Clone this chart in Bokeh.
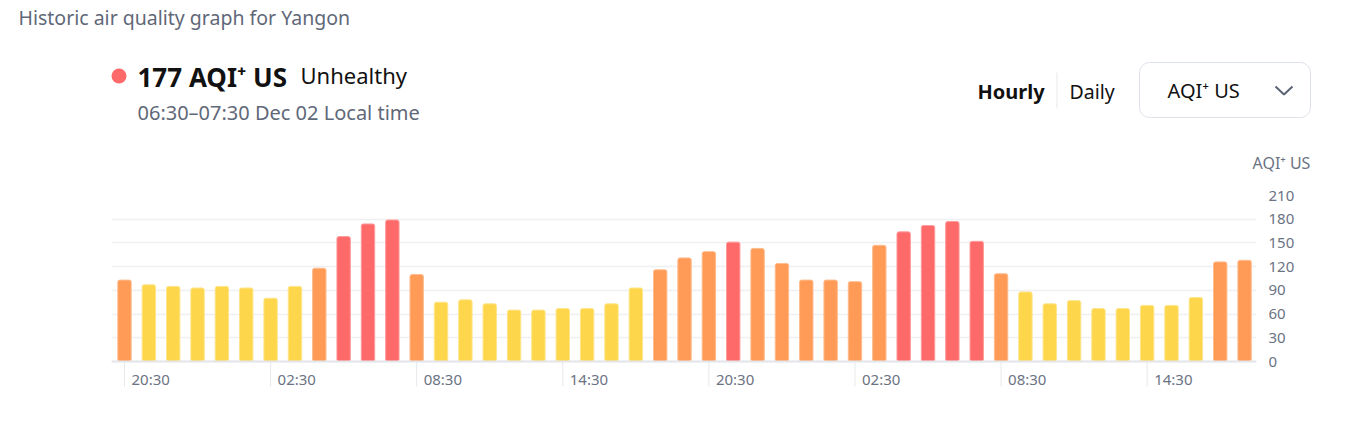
from bokeh.plotting import figure
from bokeh.layouts import column
from bokeh.models import Range1d, FixedTicker, ColumnDataSource, Span
from bokeh.core.properties import value
from bokeh.embed import file_html
from bokeh.resources import INLINE

# ---------------- data ----------------
hours = ["20:30", "21:30", "22:30", "23:30", "00:30", "01:30", "02:30", "03:30",
         "04:30", "05:30", "06:30", "07:30", "08:30", "09:30", "10:30", "11:30",
         "12:30", "13:30", "14:30", "15:30", "16:30", "17:30", "18:30", "19:30",
         "20:30", "21:30", "22:30", "23:30", "00:30", "01:30", "02:30", "03:30",
         "04:30", "05:30", "06:30", "07:30", "08:30", "09:30", "10:30", "11:30",
         "12:30", "13:30", "14:30", "15:30", "16:30", "17:30", "18:30"]
aqi = [103, 97, 95, 93, 95, 93, 80, 95, 118, 158, 174, 179, 110, 75, 78, 73,
       65, 65, 67, 67, 73, 93, 116, 131, 139, 151, 143, 124, 103, 103, 101, 147,
       164, 172, 177, 152, 111, 88, 73, 77, 67, 67, 71, 71, 81, 126, 128]
tick_idx = [0, 6, 12, 18, 24, 30, 36, 42]
tick_labels = ["20:30", "02:30", "08:30", "14:30", "20:30", "02:30", "08:30", "14:30"]
y_ticks = [0, 30, 60, 90, 120, 150, 180, 210]

YELLOW, ORANGE, RED = "#FDD64B", "#FF9B57", "#FE6A69"
YELLOW_L, ORANGE_L, RED_L = "#FEE58A", "#FFBC8E", "#FF9A99"


def level_color(v):
    if v <= 100:
        return YELLOW
    if v <= 150:
        return ORANGE
    return RED


def level_edge(v):
    if v <= 100:
        return YELLOW_L
    if v <= 150:
        return ORANGE_L
    return RED_L


FONT = value("Noto Sans")
GRAY = "#6b7383"
DARK = "#111111"
W = 1345
HEAD_H = 182
CHART_H = 425 - HEAD_H

# ---------------- header (pixel-like coordinates, y downwards) ----------------
h = figure(width=W, height=HEAD_H, x_range=Range1d(0, W), y_range=Range1d(HEAD_H, 0),
           output_backend="svg", toolbar_location=None,
           x_axis_location=None, y_axis_location=None,
           min_border=0, min_border_left=0, min_border_right=0,
           min_border_top=0, min_border_bottom=0)
h.outline_line_color = None
h.xgrid.visible = False
h.ygrid.grid_line_color = None


def txt(x, y, t, size, color, style="normal"):
    h.text(x=[x], y=[y], text=[t], text_align="left", text_baseline="middle",
           text_font=FONT, text_font_size=size, text_color=color,
           text_font_style=style)


txt(18, 17, "Historic air quality graph for Yangon", "19.5px", "#5f6878")
h.scatter(x=[118.5], y=[75.5], size=15, color=RED, line_color=None)
txt(137, 76, "177 AQI\u207a US", "26px", DARK, "bold")
txt(300, 74, "Unhealthy", "22px", DARK)
txt(137, 112, "06:30\u201307:30 Dec 02 Local time", "20px", "#5f6878")

txt(977, 91, "Hourly", "20px", DARK, "bold")
h.segment(x0=[1056.5], y0=[72], x1=[1056.5], y1=[108], line_color="#e6e8ec", line_width=1)
txt(1069, 91, "Daily", "19.5px", DARK)
h.rect(x=[1224.5], y=[89.5], width=[171], height=[55], fill_color="white",
       line_color="#dde1e8", line_width=1, border_radius=10)
txt(1167, 90, "AQI\u207a US", "20px", DARK)
h.line(x=[1275, 1283.5, 1292], y=[86, 94, 86], line_color="#5b6475", line_width=2)

txt(1252, 162, "AQI\u207a US", "16px", GRAY)

# ---------------- chart ----------------
src = ColumnDataSource(dict(
    x=list(range(len(aqi))),
    aqi=aqi,
    hour=hours,
    color=[level_color(v) for v in aqi],
    edge=[level_edge(v) for v in aqi],
))
lab_src = ColumnDataSource(dict(x=tick_idx, text=tick_labels))

p = figure(width=W, height=CHART_H,
           x_range=Range1d(-0.534, 46.49), y_range=Range1d(-43.0, 210),
           output_backend="svg", toolbar_location=None,
           x_axis_location=None, y_axis_location="right",
           min_border_left=111, min_border_right=89,
           min_border_top=195 - HEAD_H, min_border_bottom=30)
p.outline_line_color = None
p.xgrid.visible = False
p.ygrid.grid_line_color = "#eff0f3"
p.ygrid.grid_line_width = 1.5

ya = p.yaxis[0]
ya.ticker = FixedTicker(ticks=y_ticks)
ya.axis_line_color = None
ya.major_tick_line_color = None
ya.minor_tick_line_color = None
ya.major_tick_in = 0
ya.major_tick_out = 0
ya.major_label_standoff = 12
ya.major_label_text_font = "Noto Sans"
ya.major_label_text_font_size = "15px"
ya.major_label_text_color = GRAY

p.vbar(x="x", top="aqi", width=0.55, source=src, fill_color="color",
       line_color="edge", line_width=1, border_radius=2)

p.add_layout(Span(location=0, dimension="width", line_color="#e4e6ea", line_width=2))
p.segment(x0="x", y0=0, x1="x", y1=-31.5, source=lab_src, line_color="#e6e8ec", line_width=1)
p.text(x="x", y=-21.5, text="text", source=lab_src, x_offset=7,
       text_align="left", text_baseline="middle", text_font=FONT,
       text_font_size="15px", text_color=GRAY)

# keep each figure's own frame (no cross-plot frame alignment in the column)
for fig in (h, p):
    if hasattr(fig, "frame_align"):
        fig.frame_align = False

open("out.html", "w").write(file_html(column(h, p), INLINE))
